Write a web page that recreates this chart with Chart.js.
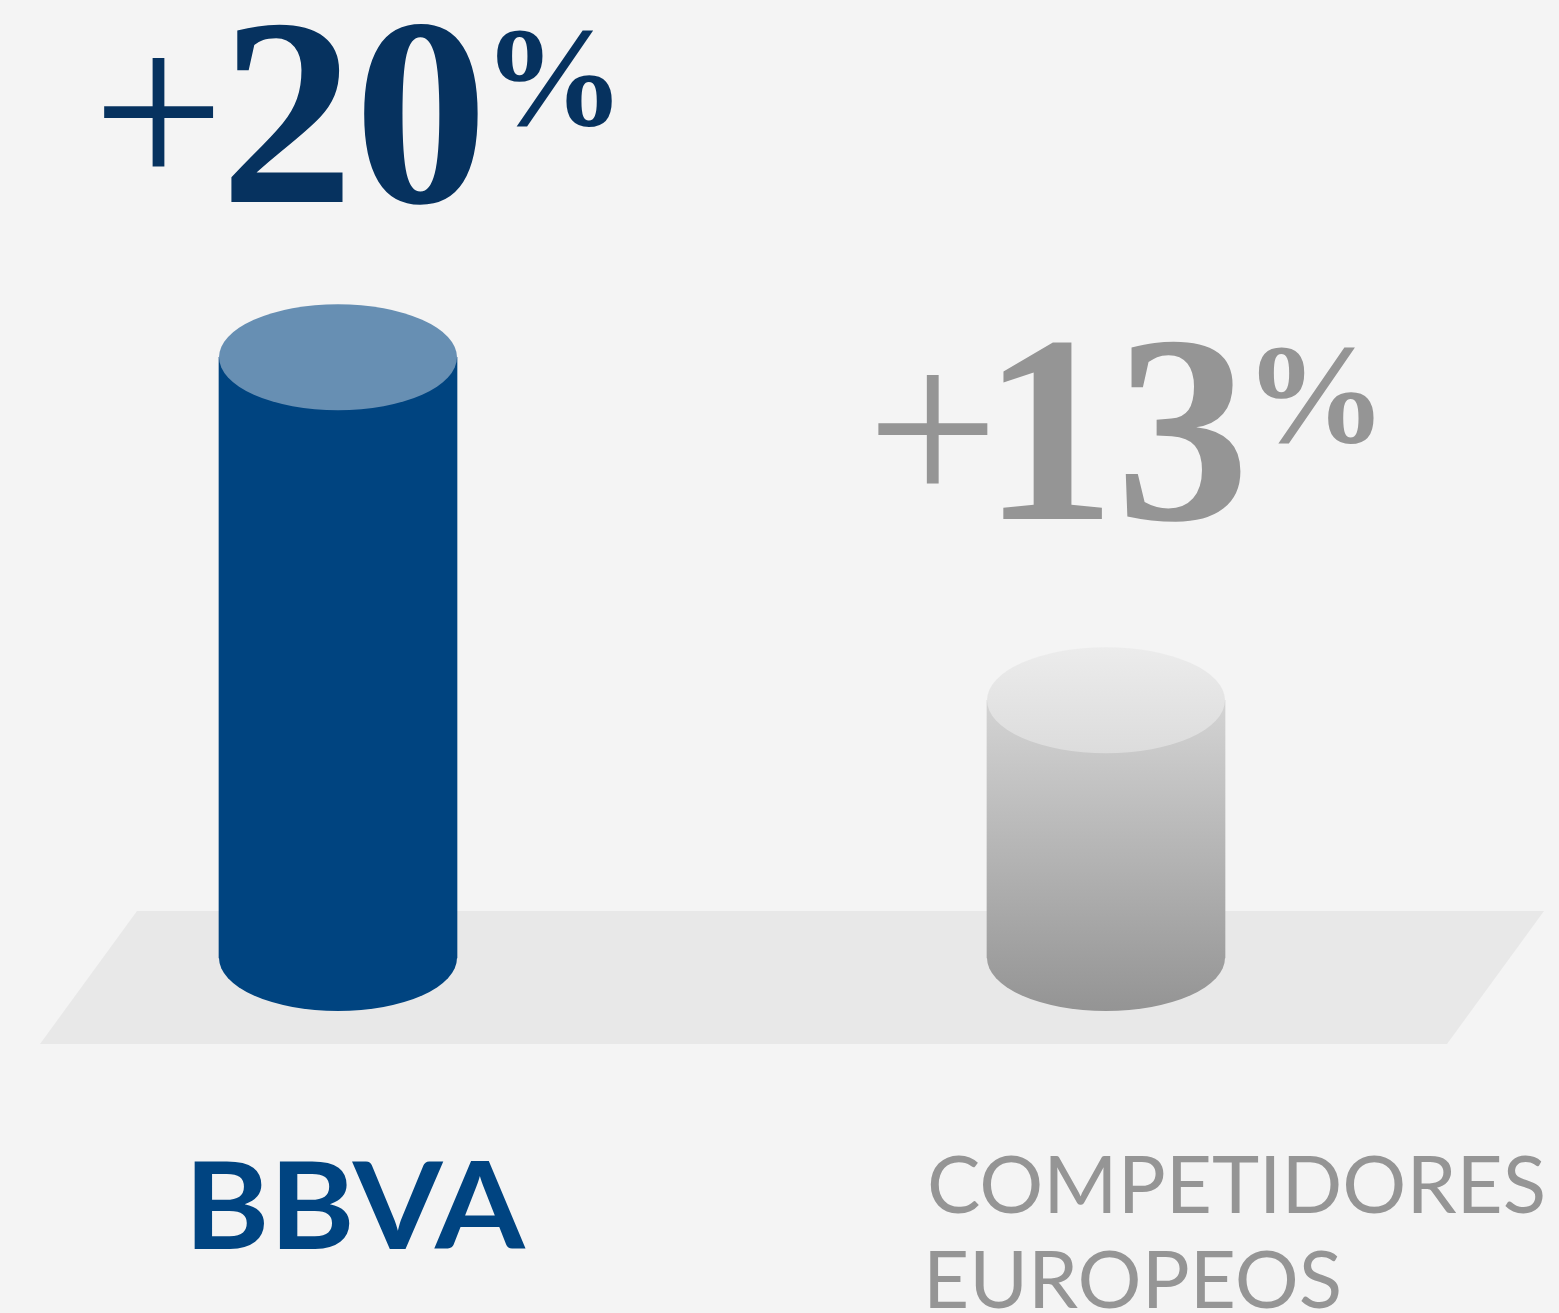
<!DOCTYPE html>
<html>
<head>
<meta charset="utf-8">
<script src="https://cdn.jsdelivr.net/npm/chart.js@4.4.1/dist/chart.umd.min.js"></script>
<style>
  html, body { margin: 0; padding: 0; background: #f4f4f4; }
  #wrap { width: 1559px; height: 1313px; position: relative; }
</style>
</head>
<body>
<div id="wrap"><canvas id="chart"></canvas></div>
<script>
// Datos del gráfico
const categories = ['BBVA', ['COMPETIDORES', 'EUROPEOS']];
const growth = [20, 13];

// Escala vertical (el suelo no está en cero)
const Y_MIN = 7.74;
const Y_MAX = 26.25;

// Colores
const FLOOR = '#e8e8e8';
const BLUE_BODY = '#004480';
const BLUE_TOP = '#678fb3';
const BLUE_TEXT = '#06325f';
const GRAY_TEXT = '#959595';
const SERIF = '"Liberation Serif", "DejaVu Serif", serif';

// Radio vertical de las elipses de los cilindros
const RY = 53;
// Separación entre la etiqueta de valor y la tapa del cilindro
const labelLift = [98, 124];

// Degradado del cilindro gris (cuerpo)
function grayBody(ctx, top, base) {
    const g = ctx.createLinearGradient(0, top, 0, base + RY);
    g.addColorStop(0, '#d4d4d4');
    g.addColorStop(1, '#949494');
    return g;
}
function bodyColor(chart, i, value) {
    if (i === 0) return BLUE_BODY;
    const y = chart.scales.y;
    return grayBody(chart.ctx, y.getPixelForValue(value), y.getPixelForValue(Y_MIN));
}

// Medidas de tinta de un texto
function ink(ctx, text, font) {
    ctx.font = font;
    const m = ctx.measureText(text);
    return { l: -m.actualBoundingBoxLeft, r: m.actualBoundingBoxRight, t: -m.actualBoundingBoxAscent, b: m.actualBoundingBoxDescent };
}
function fitSize(ctx, text, weight, family, h) {
    const k = ink(ctx, text, `${weight} 100px ${family}`);
    return 100 * h / (k.b - k.t);
}
// Dibuja un texto de forma que su tinta empiece en (left, top)
function drawInk(ctx, text, font, left, top) {
    const k = ink(ctx, text, font);
    ctx.fillText(text, left - k.l, top - k.t);
    return k;
}

const cylinderPlugin = {
    id: 'cylinders',
    beforeDatasetsDraw(chart) {
        // Suelo (paralelogramo gris claro)
        const { ctx, chartArea: a } = chart;
        const base = chart.scales.y.getPixelForValue(Y_MIN);
        ctx.save();
        ctx.fillStyle = FLOOR;
        ctx.beginPath();
        ctx.moveTo(a.left - 201, base - 47);
        ctx.lineTo(a.right + 438, base - 47);
        ctx.lineTo(a.right + 341, base + 86);
        ctx.lineTo(a.left - 298, base + 86);
        ctx.closePath();
        ctx.fill();
        ctx.restore();
    },
    afterDatasetsDraw(chart) {
        const { ctx } = chart;
        const meta = chart.getDatasetMeta(0);
        ctx.save();
        ctx.textBaseline = 'alphabetic';
        ctx.textAlign = 'left';
        meta.data.forEach((bar, i) => {
            const rx = bar.width / 2;
            // Base redondeada
            ctx.fillStyle = bodyColor(chart, i, growth[i]);
            ctx.beginPath();
            ctx.ellipse(bar.x, bar.base, rx, RY, 0, 0, Math.PI);
            ctx.fill();
            // Tapa
            if (i === 0) {
                ctx.fillStyle = BLUE_TOP;
            } else {
                const g = ctx.createLinearGradient(0, bar.y - RY, 0, bar.y + RY);
                g.addColorStop(0, '#ececec');
                g.addColorStop(1, '#dcdcdc');
                ctx.fillStyle = g;
            }
            ctx.beginPath();
            ctx.ellipse(bar.x, bar.y, rx, RY, 0, 0, Math.PI * 2);
            ctx.fill();

            // Etiqueta de valor: "+", cifras y "%"
            const digits = String(growth[i]);
            ctx.fillStyle = i === 0 ? BLUE_TEXT : GRAY_TEXT;
            const fPlus = `400 ${fitSize(ctx, '+', 400, SERIF, 110)}px ${SERIF}`;
            const fDig = `700 ${fitSize(ctx, digits, 700, SERIF, 182)}px ${SERIF}`;
            const fPct = `700 ${fitSize(ctx, '%', 700, SERIF, 97)}px ${SERIF}`;
            const kp = ink(ctx, '+', fPlus), kd = ink(ctx, digits, fDig), kc = ink(ctx, '%', fPct);
            const pw = kp.r - kp.l, dw = kd.r - kd.l, cw = kc.r - kc.l;
            const g1 = 15, g2 = 17;
            const total = pw + g1 + dw + g2 + cw;
            let left = bar.x + 20 - total / 2;
            const dBottom = bar.y - RY - labelLift[i];
            const dTop = dBottom - (kd.b - kd.t);
            const dMid = (dTop + dBottom) / 2;
            drawInk(ctx, '+', fPlus, left, dMid - 2 - (kp.b - kp.t) / 2);
            left += pw + g1;
            drawInk(ctx, digits, fDig, left, dTop);
            left += dw + g2;
            drawInk(ctx, '%', fPct, left, dTop + 8);

            // Etiqueta de categoría
            const cat = categories[i];
            if (i === 0) {
                // Logotipo BBVA como texto, estirado al ancho original
                ctx.fillStyle = '#004481';
                const f = `700 ${fitSize(ctx, 'BBV', 700, 'Lato', 87)}px Lato`;
                const k = ink(ctx, cat, f);
                const sx = 332 / (k.r - k.l);
                ctx.save();
                ctx.translate(bar.x + 22 - 166, 0);
                ctx.scale(sx, 1);
                drawInk(ctx, cat, f, 0, bar.base + 291 - (k.b - k.t));
                ctx.restore();
            } else {
                ctx.fillStyle = GRAY_TEXT;
                cat.forEach((line, j) => {
                    const k = ink(ctx, line, '400 80px Lato');
                    ctx.fillText(line, bar.x - rx - 57 - k.l, bar.base + 255 + j * 95);
                });
            }
        });
        ctx.restore();
    }
};

new Chart(document.getElementById('chart'), {
    type: 'bar',
    data: {
        labels: categories,
        datasets: [{
            data: growth,
            base: Y_MIN,
            backgroundColor: (c) => c.chart.chartArea ? bodyColor(c.chart, c.dataIndex, c.raw) : BLUE_BODY,
            borderWidth: 0,
            barThickness: 238,
            clip: false
        }]
    },
    options: {
        responsive: true,
        maintainAspectRatio: false,
        animation: false,
        layout: { padding: { top: 51, bottom: 355, left: 338, right: 453 } },
        plugins: { legend: { display: false }, tooltip: { enabled: false } },
        scales: {
            x: { display: false, offset: false, grid: { display: false } },
            y: { display: false, min: Y_MIN, max: Y_MAX, grid: { display: false } }
        }
    },
    plugins: [cylinderPlugin]
});
</script>
</body>
</html>
